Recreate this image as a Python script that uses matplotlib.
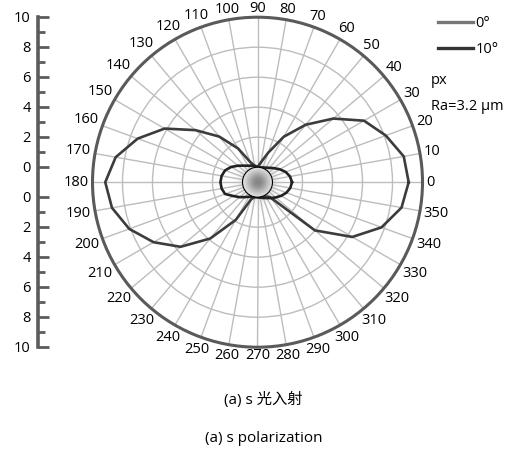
import numpy as np
import matplotlib
matplotlib.use("Agg")
import matplotlib.pyplot as plt

plt.rcParams['font.family'] = ['Open Sans', 'Noto Sans CJK SC', 'DejaVu Sans']

# scattering pattern sampled every 10 degrees
angles_deg = np.arange(0, 360, 10)
r_0deg = [9.08, 8.9, 8.1, 7.2, 5.6, 4.0, 2.5, 1.1, 0.35, 0.0, 0.1, 0.45,
          1.6, 2.97, 4.4, 6.15, 7.5, 8.6, 9.15, 8.85, 8.1, 7.0, 5.7, 3.9,
          1.9, 0.2, 0.0, 0.0, 0.0, 0.05, 0.1, 0.3, 4.0, 6.3, 7.8, 8.75]
r_10deg = [1.3, 1.2, 1.0, 0.72, 0.45, 0.25, 0.12, 0.05, 0.0, 0.0, 0.12, 0.17,
           0.27, 0.44, 0.71, 1.03, 1.3, 1.43, 1.47, 1.43, 1.3, 0.85, 0.55, 0.3,
           0.12, 0.03, 0.0, 0.0, 0.05, 0.12, 0.22, 0.38, 0.58, 0.82, 1.05, 1.22]
series_labels = ['0°', '10°']
series_colors = ['#3c3c3c', '#222222']
legend_colors = ['#777777', '#333333']

ring_values = [2, 4, 6, 8]
scale_major = [10, 8, 6, 4, 2, 0]
fs = 10.5

W, H = 531, 450
fig = plt.figure(figsize=(W / 100, H / 100), dpi=100)

# soft gray spot at the pole
cx, cy, R = 257.5, 182.2, 165
bw = 60
ax_b = fig.add_axes([(cx - bw / 2) / W, (H - cy - bw / 2) / H, bw / W, bw / H])
yy, xx = np.mgrid[-1:1:121j, -1:1:121j]
alpha = 0.72 * np.exp(-(xx ** 2 + yy ** 2) / (2 * 0.3 ** 2))
img = np.zeros((121, 121, 4))
img[..., :3] = 0.33
img[..., 3] = alpha
ax_b.imshow(img, extent=(-1, 1, -1, 1), interpolation='bilinear')
ax_b.set_axis_off()

ax = fig.add_axes([(cx - R) / W, (H - cy - R) / H, 2 * R / W, 2 * R / H],
                  projection='polar')
ax.set_facecolor('none')
ax.set_rorigin(-1)
ax.set_rlim(0, 10)
ax.set_xticks(np.deg2rad(angles_deg))
ax.set_xticks(np.deg2rad(np.arange(5, 360, 10)), minor=True)
ax.set_xticklabels([])
ax.set_yticks(ring_values)
ax.set_yticklabels([])
ax.grid(True, color='#bdbdbd', linewidth=1.0)
ax.tick_params(axis='x', which='both', direction='in', length=4,
               width=1, color='#555555')
ax.spines['polar'].set_linewidth(2.2)
ax.spines['polar'].set_color('#5a5a5a')
ax.spines['inner'].set_visible(False)

theta = np.deg2rad(np.append(angles_deg, angles_deg[0]))
for vals, lab, col in zip([r_0deg, r_10deg], series_labels, series_colors):
    ax.plot(theta, np.append(vals, vals[0]), color=col, lw=1.9,
            solid_joinstyle='round')

# angle labels just outside the rim
for a in angles_deg:
    s = str(a)
    c, sn = np.cos(np.deg2rad(a)), np.sin(np.deg2rad(a))
    w = len(s) * 0.57 * fs
    h = 0.72 * fs
    d = 2.5 + 0.5 * (w * abs(c) + h * abs(sn))
    ax.annotate(s, xy=(np.deg2rad(a), 10), xytext=(d * c, d * sn),
                textcoords='offset points', ha='center', va='center',
                fontsize=fs, annotation_clip=False)

# vertical scale on the left
ax_r = fig.add_axes([37.5 / W, (H - 347) / H, 0.0001, 330 / H])
ax_r.set_ylim(-11, 11)
for side in ['right', 'top', 'bottom']:
    ax_r.spines[side].set_visible(False)
ax_r.spines['left'].set_linewidth(2.6)
ax_r.spines['left'].set_color('#5c5c5c')
ax_r.set_xticks([])
major_pos = [v + 1 for v in scale_major] + [-(v + 1) for v in scale_major]
major_lab = [str(v) for v in scale_major] * 2
ax_r.set_yticks(major_pos)
ax_r.set_yticklabels(major_lab, fontsize=fs)
minor_pos = [v + 1 for v in range(1, 10, 2)] + [-(v + 1) for v in range(1, 10, 2)]
ax_r.set_yticks(minor_pos, minor=True)
ax_r.tick_params(axis='y', which='major', direction='in', length=8, width=2,
                 color='#5c5c5c', pad=5)
ax_r.tick_params(axis='y', which='minor', direction='in', length=5, width=2,
                 color='#5c5c5c')

# legend and sample notes
handles = [plt.Line2D([], [], color=c, lw=2.4) for c in legend_colors]
fig.legend(handles, series_labels, loc='upper left',
           bbox_to_anchor=(432 / W, 1 - 10 / H), frameon=False, fontsize=fs,
           handlelength=2.4, handletextpad=0.2, labelspacing=0.75,
           borderaxespad=0)
fig.text(431 / W, 1 - 80 / H, 'px', fontsize=fs, va='center')
fig.text(431 / W, 1 - 107 / H, 'Ra=3.2 μm', fontsize=fs, va='center')

fig.text(263 / W, 1 - 400 / H, '(a) s 光入射', fontsize=11, ha='center', va='center')
fig.text(264 / W, 1 - 438 / H, '(a) s polarization', fontsize=11, ha='center', va='center')

fig.savefig('out.png', dpi=100)
